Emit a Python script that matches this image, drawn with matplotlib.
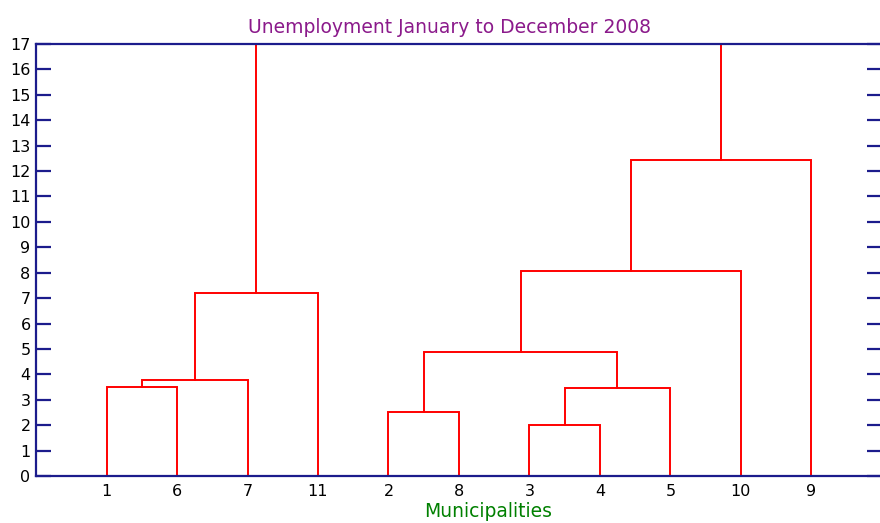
import matplotlib
matplotlib.use("Agg")
import matplotlib.pyplot as plt

# leaf order along the x axis
leaf_labels = ["1", "6", "7", "11", "2", "8", "3", "4", "5", "10", "9"]

# merges: (left, right, height); names "cN" refer to the N-th merge
merges = [
	("3", "4", 2.0),
	("2", "8", 2.5),
	("c0", "5", 3.45),
	("1", "6", 3.52),
	("c3", "7", 3.78),
	("c1", "c2", 4.88),
	("c4", "11", 7.22),
	("c5", "10", 8.05),
	("c7", "9", 12.42),
	("c6", "c8", 17.0),
]

yticks = list(range(0, 18))

fig = plt.figure(figsize=(8.8, 5.23), dpi=100)
ax = fig.add_axes([0.041, 0.0899, 0.961, 0.826])

xpos = {}
ypos = {}
for i, lab in enumerate(leaf_labels):
	xpos[lab] = i + 1
	ypos[lab] = 0.0

for k, (a, b, h) in enumerate(merges):
	xa, xb = xpos[a], xpos[b]
	ax.plot([xa, xa, xb, xb], [ypos[a], h, h, ypos[b]], color="#ff0000", lw=1.4, solid_joinstyle="miter")
	name = "c%d" % k
	xpos[name] = (xa + xb) / 2.0
	ypos[name] = h

navy = "#1c1c8c"
ax.set_xlim(0, 12)
ax.set_ylim(0, 17)
ax.set_xticks(range(1, len(leaf_labels) + 1))
ax.set_xticklabels(leaf_labels)
ax.set_yticks(yticks)
for s in ax.spines.values():
	s.set_color(navy)
	s.set_linewidth(1.6)
ax.tick_params(axis="y", direction="in", length=11, width=1.6, color=navy, left=True, right=True, labelsize=11.5, pad=4)
ax.tick_params(axis="x", length=0, labelsize=11.5, pad=6)

ax.set_title("Unemployment January to December 2008", color="#8b1a8b", fontsize=13.5,
	x=0.489, y=1.026, va="baseline", pad=0)
ax.set_xlabel("Municipalities", color="#008000", fontsize=13.5)
ax.xaxis.set_label_coords(0.535, -0.095)
ax.xaxis.label.set_va("baseline")

fig.savefig("out.png", dpi=100)
